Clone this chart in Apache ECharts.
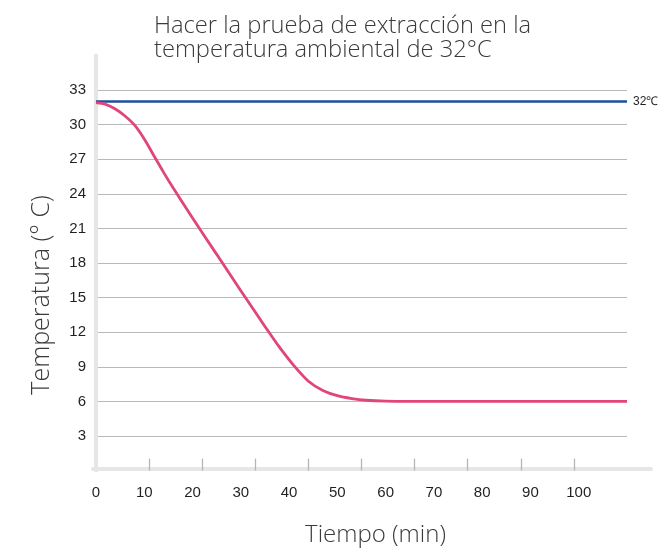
<!DOCTYPE html>
<html><head><meta charset="utf-8">
<script src="https://cdn.jsdelivr.net/npm/echarts@6/dist/echarts.min.js"></script>
<style>html,body{margin:0;padding:0;background:#fff}#c{width:665px;height:554px}</style>
</head><body><div id="c"></div>
<script>
// Data
const timeMin = [0, 2, 4, 6, 8, 10, 12, 14, 16, 20, 25, 30, 35, 38, 41, 44, 47, 50, 53, 56, 60, 65, 110];
const tempC   = [31.9, 31.75, 31.35, 30.75, 29.95, 28.75, 27.3, 25.86, 24.5, 21.9, 18.75, 15.6, 12.5, 10.7, 9.1, 7.75, 6.95, 6.5, 6.25, 6.1, 6.02, 6.0, 6.0];
const ambientTime = [0, 110];
const ambientTemp = 32;
const ambientLabel = '32℃';
const xLabelValues = [0, 10, 20, 30, 40, 50, 60, 70, 80, 90, 100];
const xTickValues = [10, 20, 30, 40, 50, 60, 70, 80, 90];
const yLabelValues = [3, 6, 9, 12, 15, 18, 21, 24, 27, 30, 33];
const titleText = 'Hacer la prueba de extracción en la\ntemperatura ambiental de 32°C';
const xName = 'Tiempo (min)';
const yName = 'Temperatura (° C)';

const curveData = timeMin.map((t, i) => [t, tempC[i]]);
const ambientData = ambientTime.map(t => [t, ambientTemp]);

const TXT = '#231f20';
const AXIS = '#e6e6e6';
const GRID = '#b9b9b9';
const LABEL_FONT = '"Liberation Sans", Arial, sans-serif';
const NAME_FONT = '"Open Sans", Lato, sans-serif';

const chart = echarts.init(document.getElementById('c'), null, {renderer: 'canvas'});
chart.setOption({
  animation: false,
  backgroundColor: '#fff',
  title: {
    text: titleText, left: 149, top: 9,
    textStyle: {fontFamily: NAME_FONT, fontWeight: 300, fontSize: 23.7, lineHeight: 24, color: '#3a3a3a'}
  },
  grid: [
    {left: 96, right: 38, top: 55.4, bottom: 83.4, containLabel: false, outerBoundsMode: 'none'},
    {left: 93, right: 14, top: 55.4, bottom: 85.6, containLabel: false, outerBoundsMode: 'none'}
  ],
  xAxis: [
    {
      type: 'value', gridIndex: 0, min: 0, max: 110, position: 'bottom',
      name: xName, nameLocation: 'middle', nameGap: 53,
      nameTextStyle: {fontFamily: NAME_FONT, fontWeight: 300, fontSize: 24, color: '#3a3a3a', padding: [0, 0, 0, 28]},
      axisLine: {show: false}, axisTick: {show: false}, splitLine: {show: false},
      axisLabel: {customValues: xLabelValues, color: TXT, fontSize: 15, fontFamily: LABEL_FONT, margin: 15}
    },
    {
      type: 'value', gridIndex: 0, min: 0, max: 100, position: 'bottom',
      axisLine: {show: false}, axisLabel: {show: false}, splitLine: {show: false},
      axisTick: {show: true, inside: true, length: 12, customValues: xTickValues, lineStyle: {color: '#b5b5b5', width: 1.3}}
    },
    {
      type: 'value', gridIndex: 1, min: 0, max: 1, position: 'bottom',
      axisLine: {show: true, lineStyle: {color: AXIS, width: 4}},
      axisTick: {show: false}, axisLabel: {show: false}, splitLine: {show: false}
    }
  ],
  yAxis: [
    {
      type: 'value', gridIndex: 0, min: 0, max: 36, interval: 3,
      name: yName, nameLocation: 'middle', nameGap: 42,
      nameTextStyle: {fontFamily: NAME_FONT, fontWeight: 300, fontSize: 25, color: '#3a3a3a', padding: [0, 64, 0, 0]},
      axisLine: {show: true, lineStyle: {color: AXIS, width: 4}},
      axisTick: {show: false},
      axisLabel: {customValues: yLabelValues, color: TXT, fontSize: 15, fontFamily: LABEL_FONT, margin: 10},
      splitLine: {show: true, showMinLine: false, showMaxLine: false, lineStyle: {color: GRID, width: 1.2}}
    },
    {type: 'value', gridIndex: 1, show: false, min: 0, max: 1}
  ],
  series: [
    {
      type: 'line', xAxisIndex: 0, yAxisIndex: 0, data: ambientData,
      symbol: 'none', lineStyle: {color: '#1d4f9c', width: 2.6}, z: 3,
      endLabel: {show: true, formatter: ambientLabel, color: TXT, fontSize: 12, fontFamily: LABEL_FONT, distance: 6}
    },
    {
      type: 'line', xAxisIndex: 0, yAxisIndex: 0, data: curveData,
      symbol: 'none', smooth: 0.3,
      lineStyle: {color: '#e0457b', width: 2.8}, z: 4
    }
  ]
});
</script>
</body></html>
